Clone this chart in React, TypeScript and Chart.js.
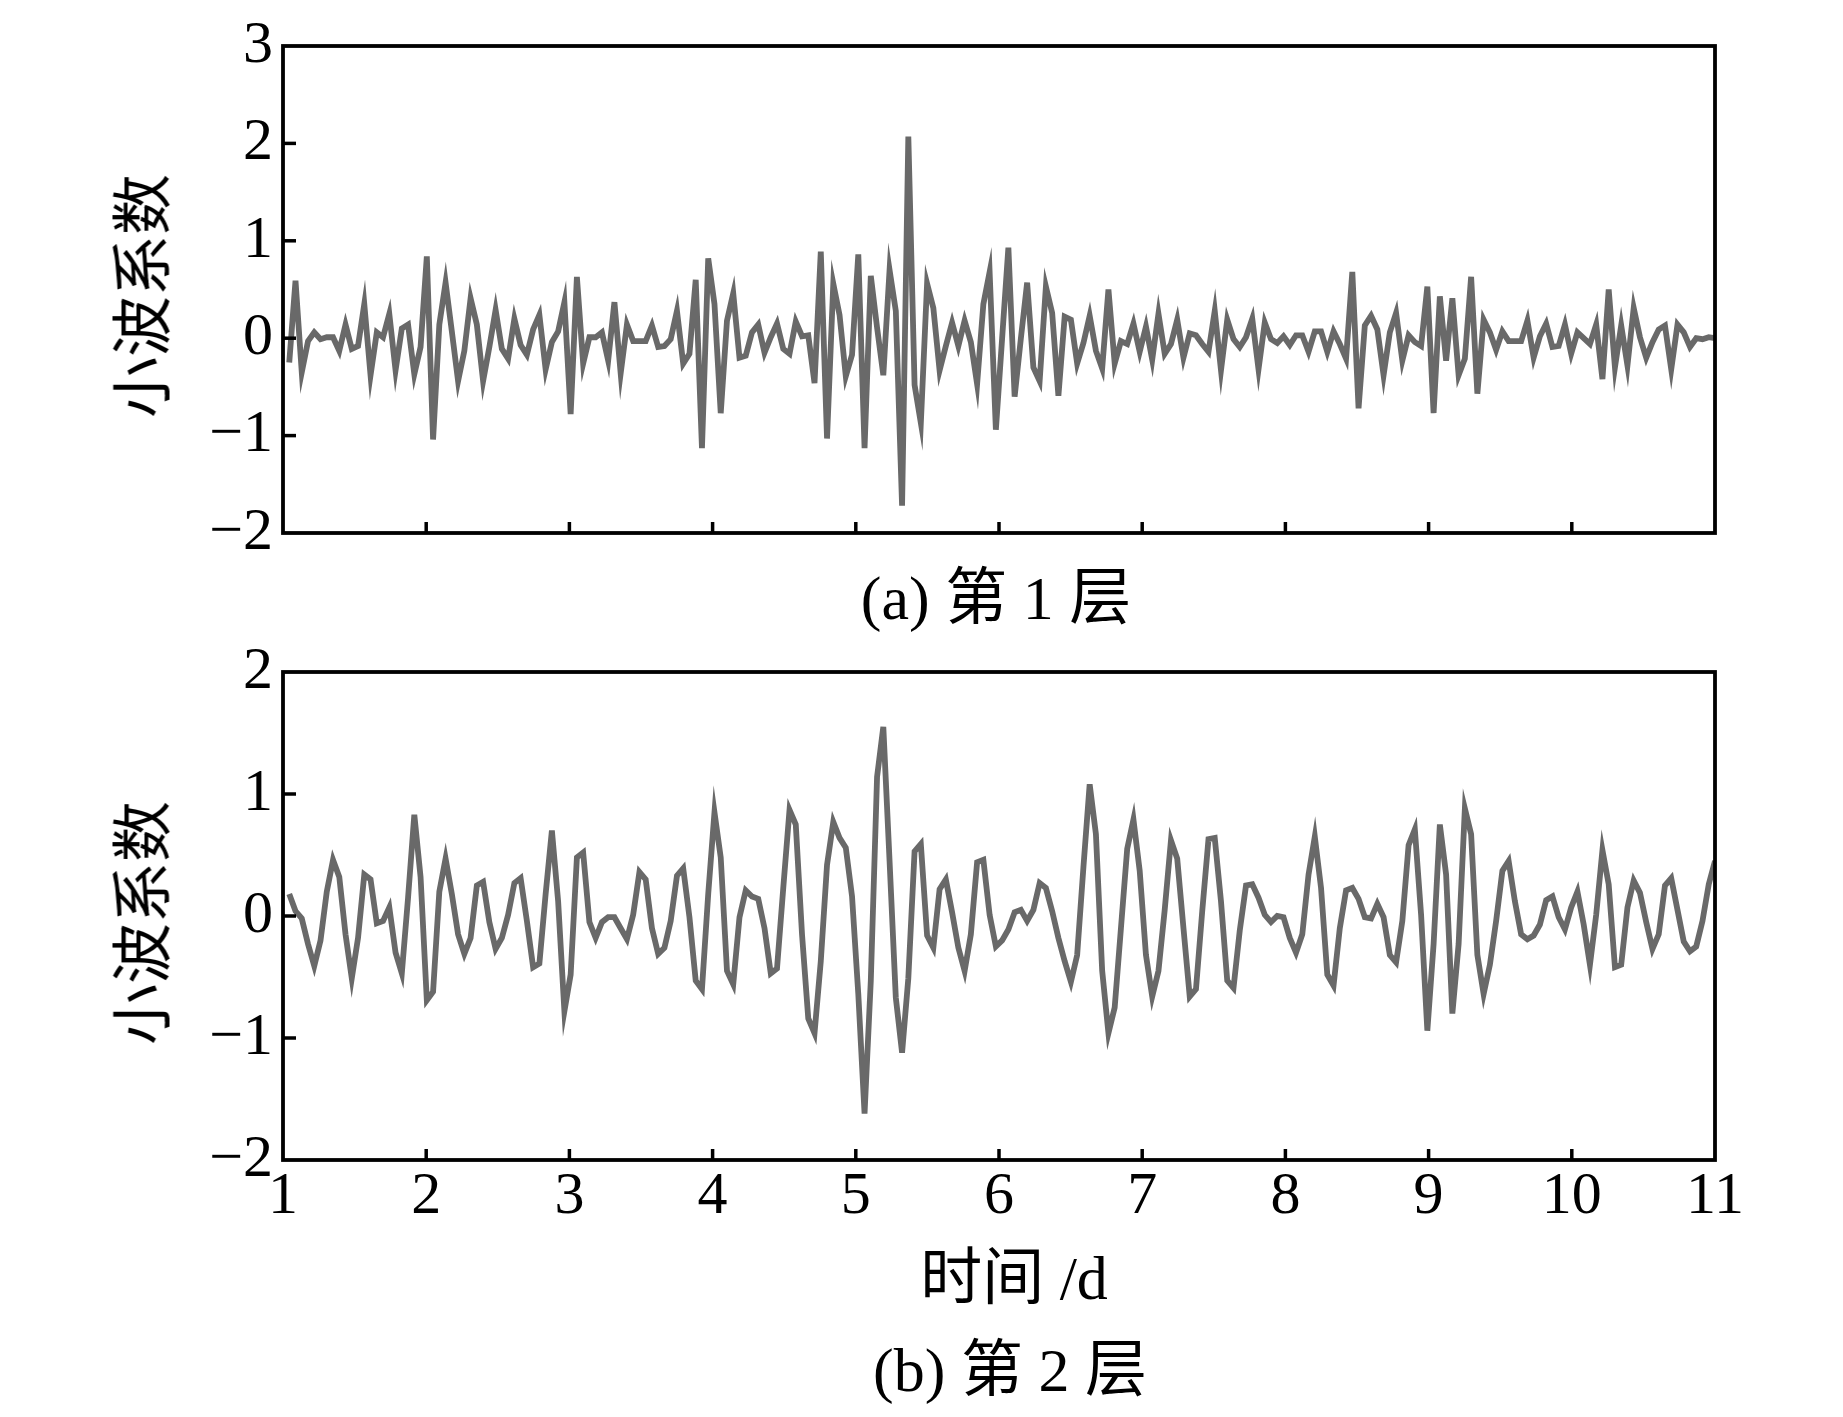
import React, { useEffect, useRef } from 'react';
import { Chart, registerables } from 'chart.js';

Chart.register(...registerables);

// ---- Data ----
// Level 1 wavelet coefficients (panel a)
const LEVEL1: number[] = [
  -0.25, 0.59, -0.35, -0.03, 0.06, -0.01, 0.01, 0.01, -0.13, 0.14,
  -0.11, -0.08, 0.35, -0.38, 0.06, 0.01, 0.25, -0.33, 0.1, 0.14,
  -0.37, -0.09, 0.84, -1.04, 0.14, 0.57, 0.07, -0.44, -0.13, 0.41,
  0.14, -0.44, -0.09, 0.29, -0.11, -0.21, 0.2, -0.07, -0.17, 0.09,
  0.24, -0.32, -0.04, 0.07, 0.37, -0.78, 0.63, -0.26, 0.01, 0.01,
  0.06, -0.23, 0.37, -0.36, 0.14, -0.03, -0.03, -0.03, 0.13, -0.09,
  -0.08, -0.01, 0.28, -0.26, -0.16, 0.6, -1.13, 0.82, 0.35, -0.77,
  0.18, 0.46, -0.2, -0.18, 0.06, 0.14, -0.15, 0.01, 0.15, -0.11,
  -0.16, 0.17, 0.02, 0.03, -0.46, 0.89, -1.03, 0.56, 0.24, -0.39,
  -0.17, 0.86, -1.13, 0.64, 0.11, -0.38, 0.7, 0.28, -1.72, 2.07,
  -0.48, -0.87, 0.56, 0.31, -0.33, -0.08, 0.16, -0.08, 0.18, -0.04,
  -0.47, 0.35, 0.68, -0.94, 0.0, 0.93, -0.6, 0.0, 0.57, -0.3,
  -0.44, 0.53, 0.26, -0.59, 0.22, 0.19, -0.26, -0.05, 0.23, -0.13,
  -0.31, 0.5, -0.26, -0.03, -0.06, 0.15, -0.14, 0.12, -0.22, 0.25,
  -0.16, -0.06, 0.19, -0.2, 0.05, 0.03, -0.06, -0.14, 0.28, -0.33,
  0.19, -0.01, -0.09, 0.01, 0.2, -0.32, 0.16, -0.01, -0.05, 0.02,
  -0.07, 0.03, 0.03, -0.14, 0.07, 0.07, -0.14, 0.07, -0.06, -0.21,
  0.68, -0.72, 0.13, 0.23, 0.09, -0.38, 0.06, 0.26, -0.23, 0.03,
  -0.04, -0.08, 0.53, -0.77, 0.43, -0.23, 0.41, -0.38, -0.21, 0.63,
  -0.57, 0.19, 0.06, -0.12, 0.07, -0.03, -0.03, -0.03, 0.18, -0.2,
  0.02, 0.15, -0.09, -0.08, 0.14, -0.16, 0.06, 0.0, -0.06, 0.14,
  -0.42, 0.5, -0.3, 0.13, -0.28, 0.31, 0.01, -0.2, -0.04, 0.09,
  0.13, -0.32, 0.14, 0.06, -0.09, 0.0, -0.01, 0.01, 0.0,
];

// Level 2 wavelet coefficients (panel b)
const LEVEL2: number[] = [
  0.18, 0.04, -0.02, -0.23, -0.41, -0.2, 0.2, 0.46, 0.32, -0.15,
  -0.51, -0.18, 0.34, 0.3, -0.06, -0.04, 0.07, -0.3, -0.47, 0.15,
  0.83, 0.32, -0.69, -0.62, 0.2, 0.47, 0.18, -0.15, -0.31, -0.18,
  0.25, 0.28, -0.05, -0.27, -0.18, 0.01, 0.27, 0.31, -0.04, -0.42,
  -0.39, 0.18, 0.7, 0.12, -0.78, -0.48, 0.48, 0.52, -0.05, -0.18,
  -0.05, -0.01, -0.01, -0.1, -0.19, 0.01, 0.36, 0.3, -0.1, -0.31,
  -0.26, -0.04, 0.33, 0.39, -0.01, -0.53, -0.6, 0.18, 0.85, 0.48,
  -0.45, -0.56, -0.01, 0.21, 0.16, 0.14, -0.1, -0.47, -0.43, 0.23,
  0.87, 0.75, -0.15, -0.84, -0.96, -0.37, 0.42, 0.77, 0.64, 0.56,
  0.16, -0.64, -1.62, -0.53, 1.14, 1.55, 0.45, -0.67, -1.12, -0.51,
  0.53, 0.59, -0.16, -0.26, 0.22, 0.3, 0.03, -0.26, -0.45, -0.15,
  0.44, 0.46, 0.01, -0.25, -0.2, -0.11, 0.03, 0.05, -0.04, 0.05,
  0.27, 0.23, 0.04, -0.18, -0.37, -0.54, -0.32, 0.4, 1.08, 0.67,
  -0.45, -0.96, -0.75, -0.1, 0.55, 0.79, 0.37, -0.32, -0.66, -0.45,
  0.05, 0.62, 0.47, -0.1, -0.66, -0.6, 0.04, 0.63, 0.64, 0.12,
  -0.53, -0.59, -0.12, 0.25, 0.26, 0.15, 0.01, -0.05, 0.0, -0.01,
  -0.18, -0.3, -0.15, 0.34, 0.65, 0.23, -0.48, -0.57, -0.1, 0.21,
  0.23, 0.14, -0.01, -0.02, 0.1, -0.01, -0.32, -0.38, -0.04, 0.58,
  0.71, 0.01, -0.94, -0.23, 0.75, 0.34, -0.8, -0.23, 0.88, 0.67,
  -0.32, -0.64, -0.4, -0.04, 0.37, 0.45, 0.12, -0.15, -0.19, -0.16,
  -0.07, 0.13, 0.16, -0.01, -0.11, 0.07, 0.2, -0.07, -0.4, 0.01,
  0.54, 0.26, -0.42, -0.4, 0.07, 0.29, 0.19, -0.05, -0.27, -0.15,
  0.25, 0.31, 0.05, -0.21, -0.29, -0.25, -0.04, 0.26, 0.45,
];

// Time axis (days): samples evenly spaced between day 1 and day 11
const SAMPLE_COUNT = LEVEL1.length;
const TIME_DAYS: number[] = LEVEL1.map((_, i) => 1 + ((i + 1) * 10) / SAMPLE_COUNT);

const X_TICKS = [1, 2, 3, 4, 5, 6, 7, 8, 9, 10, 11];
const Y1_TICKS = [-2, -1, 0, 1, 2, 3];
const Y2_TICKS = [-2, -1, 0, 1, 2];

const Y_TITLE = '小波系数';
const X_TITLE = '时间 /d';
const CAPTION_A = '(a) 第 1 层';
const CAPTION_B = '(b) 第 2 层';

const LINE_COLOR = '#696969';
const SERIF = '"Liberation Serif", "Times New Roman", "Noto Sans CJK SC", serif';
const CJK = '"Noto Sans CJK SC", "Liberation Serif", sans-serif';

const framePlugin = {
  id: 'frameTicks',
  afterDraw(chart: any) {
    const { ctx, chartArea: a, scales } = chart;
    const xs = scales.x;
    const ys = scales.y;
    ctx.save();
    ctx.strokeStyle = '#000';
    ctx.lineCap = 'butt';
    ctx.lineWidth = 3.5;
    X_TICKS.forEach((v) => {
      const px = xs.getPixelForValue(v);
      if (px > a.left + 3 && px < a.right - 3) {
        ctx.beginPath();
        ctx.moveTo(px, a.bottom);
        ctx.lineTo(px, a.bottom - 11);
        ctx.stroke();
      }
    });
    const yTicks: number[] = chart.options.plugins.frameTicks.yTicks;
    yTicks.forEach((v) => {
      const py = ys.getPixelForValue(v);
      if (py > a.top + 3 && py < a.bottom - 3) {
        ctx.beginPath();
        ctx.moveTo(a.left, py);
        ctx.lineTo(a.left + 13, py);
        ctx.stroke();
      }
    });
    ctx.lineWidth = 3.8;
    ctx.strokeRect(a.left, a.top, a.right - a.left, a.bottom - a.top);
    ctx.restore();
  },
};

type PanelProps = {
  values: number[];
  yMin: number;
  yMax: number;
  yTicks: number[];
  showXLabels: boolean;
  width: number;
  height: number;
  areaTop: number;
  areaBottom: number;
  areaLeft: number;
  areaRight: number;
};

function WavePanel(p: PanelProps) {
  const ref = useRef<HTMLCanvasElement | null>(null);

  useEffect(() => {
    if (!ref.current) return;
    const xAxisHeight = p.height - p.areaBottom;
    const chart = new Chart(ref.current, {
      type: 'line',
      data: {
        datasets: [
          {
            data: TIME_DAYS.map((t, i) => ({ x: t, y: p.values[i] })),
            borderColor: LINE_COLOR,
            borderWidth: 5.8,
            pointRadius: 0,
            tension: 0,
            fill: false,
            borderJoinStyle: 'miter',
          },
        ],
      },
      options: {
        animation: false,
        responsive: false,
        maintainAspectRatio: false,
        events: [],
        layout: {
          padding: { left: 0, top: p.areaTop, right: p.width - p.areaRight, bottom: 0 },
        },
        plugins: {
          legend: { display: false },
          tooltip: { enabled: false },
          // @ts-ignore
          frameTicks: { yTicks: p.yTicks },
        },
        scales: {
          x: {
            type: 'linear',
            min: 1,
            max: 11,
            afterBuildTicks: (s: any) => {
              s.ticks = X_TICKS.map((v) => ({ value: v }));
            },
            afterFit: (s: any) => {
              s.height = xAxisHeight;
            },
            ticks: {
              display: p.showXLabels,
              autoSkip: false,
              maxRotation: 0,
              minRotation: 0,
              padding: 1,
              color: '#000',
              font: { family: SERIF, size: 60 },
              callback: (v: any) => String(v),
            },
            grid: { display: false, drawTicks: false },
            border: { display: false },
          },
          y: {
            type: 'linear',
            min: p.yMin,
            max: p.yMax,
            afterBuildTicks: (s: any) => {
              s.ticks = p.yTicks.map((v) => ({ value: v }));
            },
            afterFit: (s: any) => {
              s.width = p.areaLeft;
            },
            ticks: {
              padding: 10,
              color: '#000',
              font: { family: SERIF, size: 60 },
              callback: (v: any) => (Number(v) < 0 ? '\u2212' + Math.abs(Number(v)) : String(v)),
            },
            grid: { display: false, drawTicks: false },
            border: { display: false },
          },
        },
      } as any,
      plugins: [framePlugin],
    });
    return () => chart.destroy();
  }, []);

  return <canvas ref={ref} width={p.width} height={p.height} style={{ display: 'block', width: p.width, height: p.height }} />;
}

const textBase: React.CSSProperties = {
  position: 'absolute',
  whiteSpace: 'nowrap',
  lineHeight: 1,
  color: '#000',
};

function CenteredText({ x, y, text, size, family, rotate }: { x: number; y: number; text: string; size: number; family: string; rotate?: boolean }) {
  return (
    <div
      style={{
        ...textBase,
        left: x,
        top: y,
        fontSize: size,
        fontFamily: family,
        transform: `translate(-50%, -50%)${rotate ? ' rotate(-90deg)' : ''}`,
      }}
    >
      {text}
    </div>
  );
}

export default function App() {
  const W = 1843;
  return (
    <div style={{ position: 'absolute', left: 0, top: 0, width: W, height: 1417, background: '#fff', overflow: 'hidden' }}>
      <div style={{ position: 'absolute', left: 0, top: 0 }}>
        <WavePanel
          values={LEVEL1}
          yMin={-2}
          yMax={3}
          yTicks={Y1_TICKS}
          showXLabels={false}
          width={W}
          height={585}
          areaTop={43}
          areaBottom={533}
          areaLeft={283}
          areaRight={1715}
        />
      </div>
      <div style={{ position: 'absolute', left: 0, top: 620 }}>
        <WavePanel
          values={LEVEL2}
          yMin={-2}
          yMax={2}
          yTicks={Y2_TICKS}
          showXLabels={true}
          width={W}
          height={620}
          areaTop={52}
          areaBottom={540}
          areaLeft={283}
          areaRight={1715}
        />
      </div>
      <CenteredText x={138} y={296} text={Y_TITLE} size={61} family={CJK} rotate />
      <CenteredText x={138} y={923} text={Y_TITLE} size={61} family={CJK} rotate />
      <CenteredText x={996} y={598} text={CAPTION_A} size={62} family={SERIF} />
      <CenteredText x={1014} y={1278} text={X_TITLE} size={62} family={SERIF} />
      <CenteredText x={1010} y={1370} text={CAPTION_B} size={62} family={SERIF} />
    </div>
  );
}
